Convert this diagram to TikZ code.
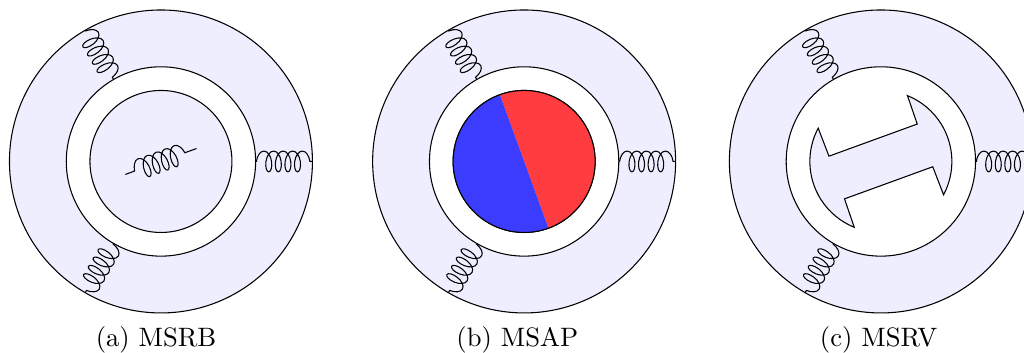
\documentclass[tikz,border=0pt]{standalone}
\usepackage{tikz}
\usetikzlibrary{calc,decorations.pathmorphing}

\definecolor{statorfill}{RGB}{238,238,255}
\definecolor{northfill}{RGB}{255,60,64}
\definecolor{southfill}{RGB}{60,60,255}

\tikzset{
  disc/.style={circle, draw, inner sep=0pt, outer sep=0pt},
  stator/.style={disc, fill=statorfill, minimum size=4cm},
  bore/.style={disc, fill=white, minimum size=2.5cm},
  rotor/.style={disc, fill=statorfill, minimum size=1.875cm},
  winding/.style={decorate, decoration={coil, aspect=0.5, amplitude=3.9pt,
      segment length=3.6pt, pre length=0.01cm, post length=0.01cm}},
  rotwinding/.style={decorate, decoration={coil, aspect=0.5, amplitude=3.9pt,
      segment length=3.6pt, pre length=0.13cm, post length=0.13cm}},
  caption/.style={anchor=base, inner sep=0pt}
}

\begin{document}
\begin{tikzpicture}
        \clip (0,0) rectangle (13.52,4.66);                          %
        \node [stator] (statA) at (2.125,2.528) {};                  %MSRB
        \node [bore]   (boreA) at (2.125,2.528) {};                  %
        \node [rotor]  (rotA)  at (2.125,2.528) {};                  %
        \coordinate (rotAl) at ($(rotA.center)+(200:0.5)$);          %
        \coordinate (rotAr) at ($(rotA.center)+(20:0.5)$);           %
        \draw [winding] (statA.120)  -- (boreA.120);                 %
        \draw [winding] (boreA.0)    -- (statA.0);                   %
        \draw [winding] (boreA.-120) -- (statA.-120);                %
        \draw [rotwinding] (rotAl)   -- (rotAr);                     %
        \node [caption] (capA) at (2.06,0.08) {(a) MSRB};            %

        \node [stator] (statB) at (6.92,2.528) {};                   %MSAP
        \node [bore]   (boreB) at (6.92,2.528) {};                   %
        \node [rotor]  (rotB)  at (6.92,2.528) {};                   %
        \fill [northfill] (rotB.110) arc (110:-70:0.9375) -- cycle;  %
        \fill [southfill] (rotB.110) arc (110:290:0.9375) -- cycle;  %
        \draw (rotB.center) circle (0.9375);                         %
        \draw [winding] (statB.120)  -- (boreB.120);                 %
        \draw [winding] (boreB.0)    -- (statB.0);                   %
        \draw [winding] (boreB.-120) -- (statB.-120);                %
        \node [caption] (capB) at (6.83,0.08) {(b) MSAP};            %

        \node [stator] (statC) at (11.63,2.528) {};                  %MSRV
        \node [bore]   (boreC) at (11.63,2.528) {};                  %
        \draw [winding] (statC.120)  -- (boreC.120);                 %
        \draw [winding] (boreC.0)    -- (statC.0);                   %
        \draw [winding] (boreC.-120) -- (statC.-120);                %
        \draw [fill=statorfill, shift={(11.63,2.528)}, rotate=20]
              (48:0.9375) -- (0.62,0.30) -- (-0.62,0.30) -- (132:0.9375)
              arc (132:228:0.9375) -- (-0.62,-0.30) -- (0.62,-0.30) -- (-48:0.9375)
              arc (-48:48:0.9375) -- cycle;                          %
        \node [caption] (capC) at (11.6,0.08) {(c) MSRV};            %
\end{tikzpicture}
\end{document}
